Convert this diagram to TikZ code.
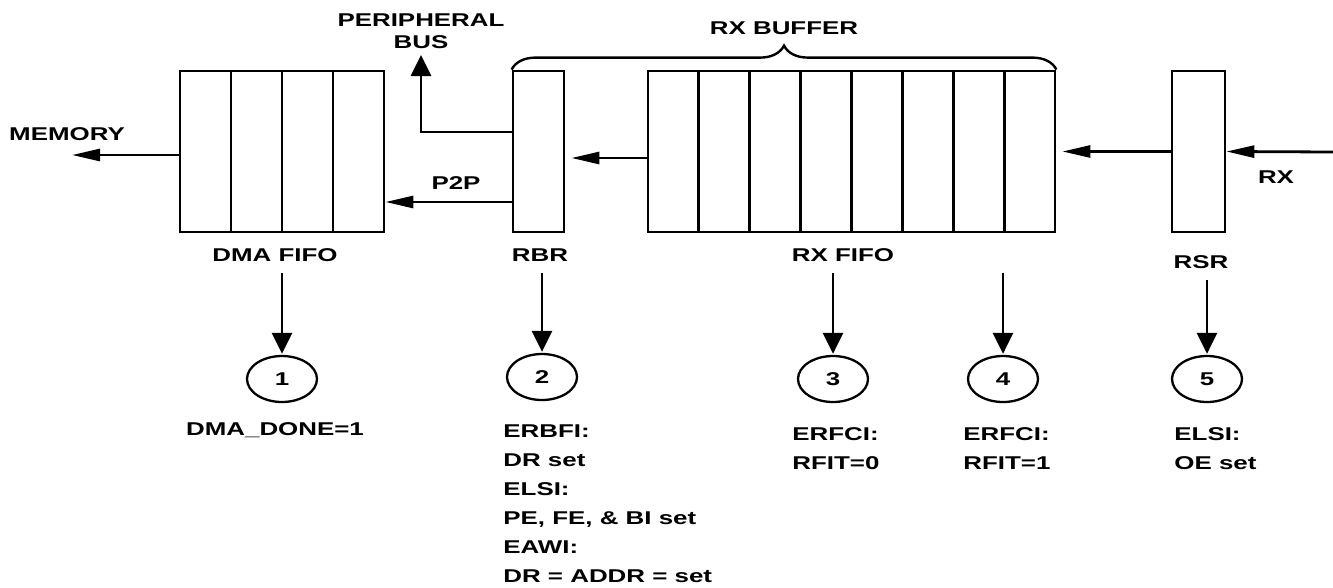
\documentclass[tikz,border=0pt]{standalone}
\usepackage{fontspec}
\newfontfamily\lblfont{Liberation Sans}[FakeStretch=1.4]
\usetikzlibrary{arrows.meta,shapes.geometric,decorations.pathreplacing}

\begin{document}
\begin{tikzpicture}[x=1pt, y=-1pt, line width=2.8pt,
  lbl/.style={font=\lblfont\bfseries\fontsize{18.5}{29}\selectfont, inner sep=0pt},
  fifobox/.style={draw, minimum height=161pt, inner sep=0pt},
  harrow/.style={-{Triangle[length=28pt,width=12pt]}},
  varrow/.style={-{Triangle[length=21pt,width=20pt]}},
  event/.style={lbl, draw, ellipse, line width=2.3pt, minimum width=70pt, minimum height=46pt}
]

% Frame
\useasboundingbox (0,0) rectangle (1333,587);

% Registers and FIFOs
\node[fifobox, minimum width=204pt] (dma) at (282,151.5) {};
\node[fifobox, minimum width=51pt] (rbr) at (538.5,151.5) {};
\node[fifobox, minimum width=407pt] (rxfifo) at (851.5,151.5) {};
\node[fifobox, minimum width=53pt] (rsr) at (1198.5,151.5) {};

% FIFO cells
\foreach \x in {231,282,333} {
    \draw (\x,71) -- (\x,232);
}
\foreach \i in {1,...,7} {
    \draw ({648+\i*50.875},71) -- ({648+\i*50.875},232);
}

% RX buffer brace
\draw[decorate, decoration={brace, amplitude=24pt}, line width=2.4pt]
(rbr.north west) -- (rxfifo.north east);

% Labels
\node[lbl] (buflbl) at (784,28) {RX BUFFER};
\node[lbl, align=center, anchor=south, font=\lblfont\bfseries\fontsize{18.5}{22}\selectfont]
  (pbus) at (421,50) {PERIPHERAL\\BUS};
\node[lbl] (memlbl) at (67,134) {MEMORY};
\node[lbl] (p2plbl) at (456,183) {P2P};
\node[lbl] (rxlbl) at (1276,177) {RX};
\node[lbl] (dmalbl) at (275,255) {DMA FIFO};
\node[lbl] (rbrlbl) at (540,255) {RBR};
\node[lbl] (rxfifolbl) at (843,255) {RX FIFO};
\node[lbl] (rsrlbl) at (1201,262) {RSR};

% Data path
\coordinate (memout) at (72,155);
\coordinate (rxin) at (1333,152);
\draw[harrow] ([yshift=-3.5pt]dma.west) -- (memout);
\draw[harrow] ([yshift=-50.5pt]rbr.west) -- ([yshift=-50.5pt]dma.east);
\draw[varrow] ([yshift=19.5pt]rbr.west) -| ([yshift=-5pt]pbus.south);
\draw[harrow, shorten >=6pt] ([yshift=-6.5pt]rxfifo.west) -- ([yshift=-6.5pt]rbr.east);
\draw[harrow, shorten >=6pt] (rsr.west) -- (rxfifo.east);
\draw[harrow] (rxin) -- (rsr.east);

% Interrupt events
\node[event] (ev1) at (282,379) {1};
\node[event] (ev2) at (542,377) {2};
\node[event] (ev3) at (833,379) {3};
\node[event] (ev4) at (1003,379) {4};
\node[event] (ev5) at (1207,379) {5};

\foreach \ev/\lb in {ev1/dmalbl,ev2/rbrlbl,ev3/rxfifolbl,ev4/rxfifolbl,ev5/rsrlbl} {
    \draw[varrow, shorten <=10pt, shorten >=1pt] (\ev.north |- \lb.south) -- (\ev.north);
}

% Event conditions
\node[lbl] (note1) at (275,430) {DMA\_DONE=1};
\node[lbl, align=left, anchor=north west] (note2) at (502,423.4)
  {ERBFI:\\DR set\\ELSI:\\PE, FE, \& BI set\\EAWI:\\DR = ADDR = set};
\node[lbl, align=left, anchor=north west] (note3) at (791,426.5) {ERFCI:\\RFIT=0};
\node[lbl, align=left, anchor=north west] (note4) at (962,426.5) {ERFCI:\\RFIT=1};
\node[lbl, align=left, anchor=north west] (note5) at (1173,426.5) {ELSI:\\OE set};

\end{tikzpicture}
\end{document}
